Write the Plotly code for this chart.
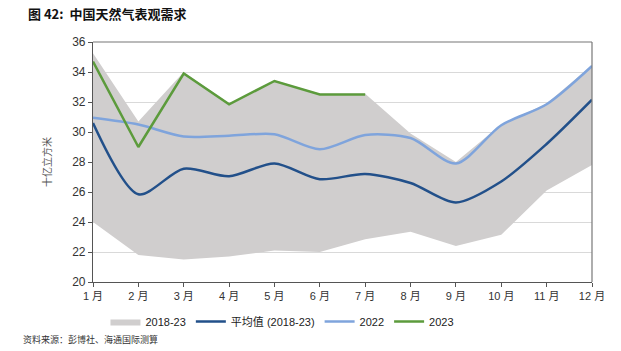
import plotly.graph_objects as go

months = ["1 月", "2 月", "3 月", "4 月", "5 月", "6 月", "7 月", "8 月", "9 月", "10 月", "11 月", "12 月"]
x_idx = list(range(1, 13))

band_low = [24.0, 21.8, 21.5, 21.7, 22.1, 22.0, 22.85, 23.35, 22.4, 23.15, 26.1, 27.8]
band_high = [35.25, 30.7, 34.0, 31.9, 33.45, 32.55, 32.55, 29.9, 28.0, 30.5, 31.9, 34.45]
avg_vals = [30.6, 25.85, 27.55, 27.05, 27.9, 26.85, 27.2, 26.6, 25.3, 26.7, 29.2, 32.15]
y2022 = [30.95, 30.5, 29.7, 29.75, 29.85, 28.85, 29.8, 29.6, 27.9, 30.45, 31.85, 34.4]
y2023 = [34.7, 29.0, 33.9, 31.85, 33.4, 32.5, 32.5]

y_ticks = [20, 22, 24, 26, 28, 30, 32, 34, 36]

C_BAND = "#D0CECE"
C_AVG = "#22508A"
C_2022 = "#7FA4DC"
C_2023 = "#5C9B3C"

fig = go.Figure()
fig.add_trace(go.Scatter(x=x_idx, y=band_low, mode="lines", line=dict(width=0, color=C_BAND),
                         showlegend=False, hoverinfo="skip"))
fig.add_trace(go.Scatter(x=x_idx, y=band_high, mode="lines", line=dict(width=0, color=C_BAND),
                         fill="tonexty", fillcolor=C_BAND, name="2018-23"))
fig.add_trace(go.Scatter(x=x_idx, y=avg_vals, mode="lines", line=dict(color=C_AVG, width=2.5, shape="spline", smoothing=0.8),
                         name="平均值 (2018-23)"))
fig.add_trace(go.Scatter(x=x_idx, y=y2022, mode="lines", line=dict(color=C_2022, width=2.5, shape="spline", smoothing=0.8),
                         name="2022"))
fig.add_trace(go.Scatter(x=x_idx[:len(y2023)], y=y2023, mode="lines", line=dict(color=C_2023, width=2.5),
                         name="2023"))

font_main = "Liberation Sans, Noto Sans CJK SC, sans-serif"

fig.update_layout(
    width=621, height=351,
    margin=dict(l=93, r=29, t=42, b=69),
    plot_bgcolor="white", paper_bgcolor="white",
    font=dict(family=font_main, size=11, color="#333333"),
    legend=dict(orientation="h", traceorder="normal", x=0.025, xanchor="left", y=-0.165, yanchor="middle",
                font=dict(size=11, color="#222222"), itemwidth=30, tracegroupgap=0,
                bgcolor="rgba(0,0,0,0)"),
    annotations=[
        dict(text="<b>图 42:  中国天然气表观需求</b>", xref="paper", yref="paper",
             x=-93/499 + 26/499, y=1 + 28/240, xanchor="left", yanchor="middle", showarrow=False,
             font=dict(size=13, color="#111111", family="Noto Sans CJK SC, sans-serif")),
        dict(text="资料来源：彭博社、海通国际测算", xref="paper", yref="paper",
             x=-93/499 + 21/499, y=-(339-282)/240, xanchor="left", yanchor="middle", showarrow=False,
             font=dict(size=9, color="#333333", family="Noto Sans CJK SC, sans-serif")),
    ],
)
fig.update_xaxes(range=[1, 12], tickvals=x_idx, ticktext=months, showgrid=False,
                 showline=True, linecolor="#555555", linewidth=1.2, mirror=False,
                 ticks="outside", ticklen=4, tickcolor="#555555", zeroline=False,
                 tickfont=dict(size=11, color="#333333"))
fig.update_yaxes(range=[20, 36], tickvals=y_ticks, showgrid=True, gridcolor="#D9D9D9", gridwidth=1,
                 showline=True, linecolor="#555555", linewidth=1.2,
                 ticks="outside", ticklen=4, tickcolor="#555555", zeroline=False,
                 tickfont=dict(size=12, color="#333333"),
                 title=dict(text="十亿立方米", font=dict(size=10, color="#555555",
                            family="Noto Sans CJK SC, sans-serif"), standoff=18))
# frame on top and right
fig.add_shape(type="line", xref="paper", yref="paper", x0=0, x1=1, y0=1, y1=1,
              line=dict(color="#777777", width=1.2))
fig.add_shape(type="line", xref="paper", yref="paper", x0=1, x1=1, y0=0, y1=1,
              line=dict(color="#777777", width=1.2))

fig.write_html("out.html")
